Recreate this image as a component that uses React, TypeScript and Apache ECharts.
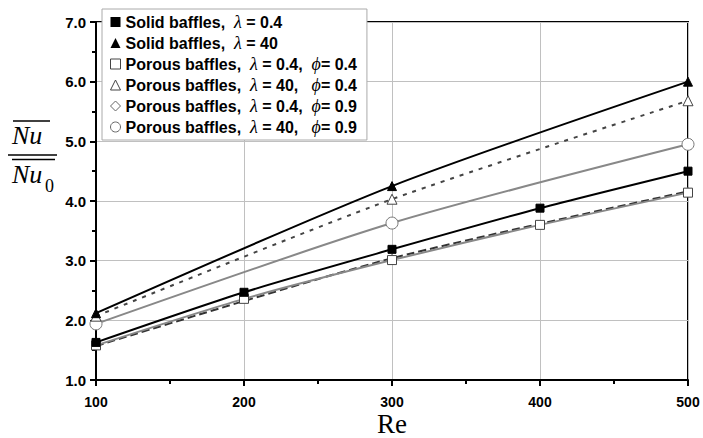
import React, { useEffect, useRef } from "react";
import * as echarts from "echarts";

const reValues = [100, 200, 300, 400, 500];
const yTicks = [1, 2, 3, 4, 5, 6, 7];

const seriesNames = [
  "Solid baffles,  λ = 0.4",
  "Solid baffles,  λ = 40",
  "Porous baffles,  λ = 0.4,  ϕ= 0.4",
  "Porous baffles,  λ = 40,   ϕ= 0.4",
  "Porous baffles,  λ = 0.4,  ϕ= 0.9",
  "Porous baffles,  λ = 40,   ϕ= 0.9",
];

const solid04 = [1.63, 2.47, 3.19, 3.88, 4.5];
const solid40 = [2.12, null, 4.25, null, 6.0];
const porous04_04 = [1.58, 2.36, 3.01, 3.6, 4.14];
const porous40_04 = [2.07, null, 4.03, null, 5.68];
const porous04_09 = [1.57, null, 3.04, null, 4.16];
const porous40_09 = [1.94, null, 3.63, null, 4.95];

const SANS = "Liberation Sans, Arial, sans-serif";
const SERIF = "Liberation Serif, Times New Roman, serif";

function richName(name: string): string {
  let out = "";
  let buf = "";
  for (const ch of name) {
    if (ch === "λ" || ch === "ϕ") {
      if (buf) out += `{b|${buf}}`;
      buf = "";
      out += `{g|${ch}}`;
    } else {
      buf += ch;
    }
  }
  if (buf) out += `{b|${buf}}`;
  return out;
}

function pairs(vals: (number | null)[]) {
  return reValues.map((x, i) => [x, vals[i]]);
}

export default function App() {
  const ref = useRef<HTMLDivElement>(null);
  useEffect(() => {
    if (!ref.current) return;
    const chart = echarts.init(ref.current, null, { renderer: "svg" });

    const mk = (
      name: string,
      vals: (number | null)[],
      symbol: string,
      size: number,
      fill: string,
      border: string,
      lineColor: string,
      lineType: any,
      lineWidth: number,
      z: number
    ) => ({
      type: "line",
      name,
      data: pairs(vals),
      connectNulls: true,
      smooth: 0.25,
      symbol,
      symbolSize: size,
      showAllSymbol: true,
      itemStyle: { color: fill, borderColor: border, borderWidth: 1 },
      lineStyle: { color: lineColor, type: lineType, width: lineWidth },
      z,
    });

    chart.setOption({
      animation: false,
      backgroundColor: "#fff",
      grid: {
        left: 96,
        right: 15,
        top: 22,
        bottom: 58,
        show: true,
        borderColor: "#000",
        borderWidth: 2,
        backgroundColor: "transparent",
      },
      xAxis: {
        type: "value",
        min: 100,
        max: 500,
        interval: 100,
        axisLine: { show: true, lineStyle: { color: "#000", width: 2 } },
        axisTick: { show: true, length: 6, lineStyle: { color: "#000", width: 2 } },
        minorTick: { show: true, splitNumber: 2, length: 4, lineStyle: { color: "#000", width: 2 } },
        splitLine: { show: true, lineStyle: { color: "#c0c0c0", width: 1 } },
        axisLabel: {
          fontFamily: SANS,
          fontWeight: "bold",
          fontSize: 14,
          lineHeight: 14,
          color: "#000",
          margin: 15,
        },
      },
      yAxis: {
        type: "value",
        min: yTicks[0],
        max: yTicks[yTicks.length - 1],
        interval: 1,
        axisLine: { show: true, lineStyle: { color: "#000", width: 2 } },
        axisTick: { show: true, length: 6, lineStyle: { color: "#000", width: 2 } },
        minorTick: { show: true, splitNumber: 2, length: 4, lineStyle: { color: "#000", width: 2 } },
        splitLine: { show: true, lineStyle: { color: "#c0c0c0", width: 1 } },
        axisLabel: {
          fontFamily: SANS,
          fontWeight: "bold",
          fontSize: 15,
          color: "#000",
          margin: 10,
          formatter: (v: number) => v.toFixed(1),
        },
      },
      legend: {
        orient: "vertical",
        left: 102,
        top: 9,
        padding: [4, 10, 4, 8],
        itemGap: 3,
        itemWidth: 10,
        itemHeight: 10,
        backgroundColor: "#fff",
        borderColor: "#aaa",
        borderWidth: 1,
        z: 10,
        data: [
          { name: seriesNames[0], icon: "rect", itemStyle: { color: "#000", borderWidth: 0 } },
          { name: seriesNames[1], icon: "triangle", itemStyle: { color: "#000", borderWidth: 0 } },
          { name: seriesNames[2], icon: "rect", itemStyle: { color: "#fff", borderColor: "#444", borderWidth: 1 } },
          { name: seriesNames[3], icon: "triangle", itemStyle: { color: "#fff", borderColor: "#444", borderWidth: 1 } },
          { name: seriesNames[4], icon: "diamond", itemStyle: { color: "#fff", borderColor: "#666", borderWidth: 1 } },
          { name: seriesNames[5], icon: "circle", itemStyle: { color: "#fff", borderColor: "#666", borderWidth: 1 } },
        ],
        formatter: (name: string) => richName(name),
        textStyle: {
          lineHeight: 18,
          rich: {
            b: { fontFamily: SANS, fontWeight: "bold", fontSize: 16, color: "#000", lineHeight: 18 },
            g: { fontFamily: SERIF, fontStyle: "italic", fontSize: 18, color: "#000", lineHeight: 18 },
          },
        },
      },
      series: [
        mk(seriesNames[4], porous04_09, "diamond", 8, "#fff", "#666", "#333", [8, 4], 2, 2),
        mk(seriesNames[2], porous04_04, "rect", 9, "#fff", "#444", "#888", "solid", 2, 3),
        mk(seriesNames[5], porous40_09, "circle", 12, "#fff", "#777", "#888", "solid", 2, 3),
        mk(seriesNames[3], porous40_04, "triangle", 10, "#fff", "#444", "#444", [4, 6], 2, 3),
        mk(seriesNames[0], solid04, "rect", 8, "#000", "#000", "#000", "solid", 2, 4),
        mk(seriesNames[1], solid40, "triangle", 9, "#000", "#000", "#000", "solid", 2, 4),
      ],
      graphic: [
        {
          type: "text",
          x: 392,
          y: 424,
          style: {
            text: "Re",
            font: `27px ${SERIF}`,
            lineHeight: 20,
            fill: "#000",
            textAlign: "center",
            textVerticalAlign: "middle",
          },
        },
        {
          type: "line",
          shape: { x1: 13, y1: 121, x2: 50, y2: 121 },
          style: { stroke: "#000", lineWidth: 1.5 },
        },
        {
          type: "text",
          x: 12,
          y: 122,
          style: { text: "Nu", font: `italic 26px ${SERIF}`, fill: "#000", textVerticalAlign: "top" },
        },
        {
          type: "line",
          shape: { x1: 8, y1: 155, x2: 57, y2: 155 },
          style: { stroke: "#000", lineWidth: 1.5 },
        },
        {
          type: "line",
          shape: { x1: 12, y1: 159.5, x2: 55, y2: 159.5 },
          style: { stroke: "#000", lineWidth: 1.5 },
        },
        {
          type: "text",
          x: 12,
          y: 161,
          style: { text: "Nu", font: `italic 26px ${SERIF}`, fill: "#000", textVerticalAlign: "top" },
        },
        {
          type: "text",
          x: 45,
          y: 177,
          style: { text: "0", font: `18px ${SERIF}`, fill: "#000", textVerticalAlign: "top" },
        },
      ],
    });
    return () => chart.dispose();
  }, []);
  return (
    <div
      ref={ref}
      style={{ position: "fixed", left: 0, top: 0, width: 703, height: 438, background: "#fff" }}
    />
  );
}
